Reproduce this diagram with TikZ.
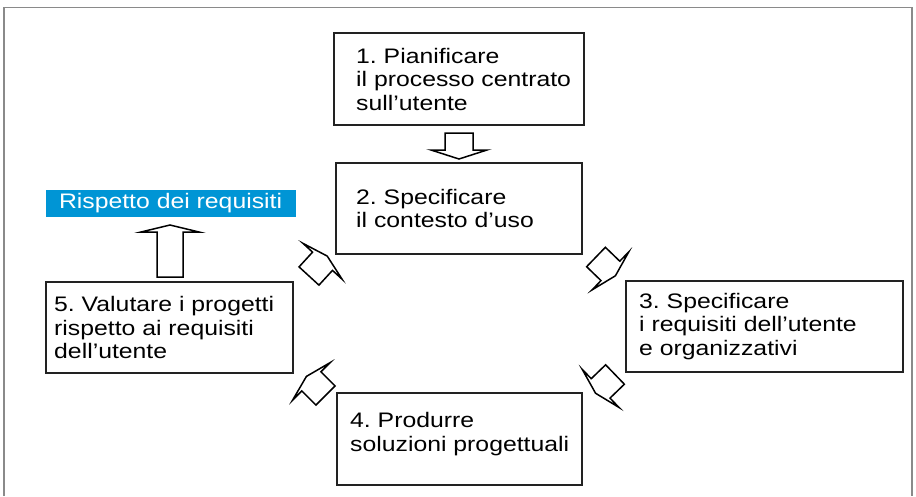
\documentclass[tikz,border=0pt]{standalone}
\usepackage{fontspec}
\setmainfont[FakeStretch=1.18]{Liberation Sans}
\usetikzlibrary{calc}
\definecolor{reqblue}{HTML}{0095D5}
\definecolor{framegray}{HTML}{8A8A8A}
\definecolor{boxline}{HTML}{222222}
\tikzset{
  stepbox/.style={draw=boxline, line width=2pt, inner sep=0pt},
  steptext/.style={align=left, inner sep=0pt, anchor=west,
    font=\fontsize{21}{23.5}\selectfont},
  reqbox/.style={fill=reqblue, draw=none, inner sep=0pt},
  reqtext/.style={text=white, inner sep=0pt, anchor=west,
    font=\fontsize{21}{23.5}\selectfont},
  blockarr/.style={draw=black, line width=1.5pt, fill=white, line join=miter},
}
% tail x,y ; angle ; shaft length ; shaft half width ; head half width ; head length
\newcommand\blockarrow[7]{%
  \draw[blockarr, shift={(#1,#2)}, rotate=#3]
    (0,-#5) -- (#4,-#5) -- (#4,-#6) -- ({#4+#7},0) -- (#4,#6) -- (#4,#5) -- (0,#5) -- cycle;}
\begin{document}
\frenchspacing
\begin{tikzpicture}[x=1pt,y=-1pt]
\useasboundingbox (0,0) rectangle (916,496);
% frame
\draw[framegray, line width=1.3pt] (4,496) -- (4,7.5) -- (912,7.5) -- (912,496);
% boxes
\node[stepbox, minimum width=250pt, minimum height=92pt] (b1) at (459,79) {};
\node[stepbox, minimum width=246pt, minimum height=91pt] (b2) at (459,208.5) {};
\node[stepbox, minimum width=277pt, minimum height=91pt] (b3) at (764.5,326.5) {};
\node[stepbox, minimum width=245pt, minimum height=92pt] (b4) at (459.5,439) {};
\node[stepbox, minimum width=247pt, minimum height=91pt] (b5) at (169.5,327.5) {};
\node[reqbox, minimum width=250pt, minimum height=27pt] (req) at (171,203.5) {};
% texts
\node[steptext] (t1) at ($(b1.west)+(23,0)$) {1. Pianificare\\il processo centrato\\sull’utente};
\node[steptext] (t2) at ($(b2.west)+(21,0)$) {2. Specificare\\il contesto d’uso};
\node[steptext] (t3) at ($(b3.west)+(14,0)$) {3. Specificare\\i requisiti dell’utente\\e organizzativi};
\node[steptext] (t4) at ($(b4.west)+(14,-5)$) {4. Produrre\\soluzioni progettuali};
\node[steptext] (t5) at ($(b5.west)+(9,0)$) {5. Valutare i progetti\\rispetto ai requisiti\\dell’utente};
\node[reqtext] (tr) at ($(req.west)+(13,0)$) {Rispetto dei requisiti};
% block arrows
\blockarrow{459}{133}{-90}{17}{14}{28}{9}
\blockarrow{170}{277}{90}{45}{13}{29}{7}
\blockarrow{309}{276}{47.5}{20}{13.5}{26.5}{7}
\blockarrow{596}{257}{-44}{20}{13.5}{26.5}{7}
\blockarrow{615}{374.5}{224}{20}{13.5}{26.5}{7}
\blockarrow{325.5}{395.5}{135}{20}{13.5}{26.5}{7}
\end{tikzpicture}
\end{document}
